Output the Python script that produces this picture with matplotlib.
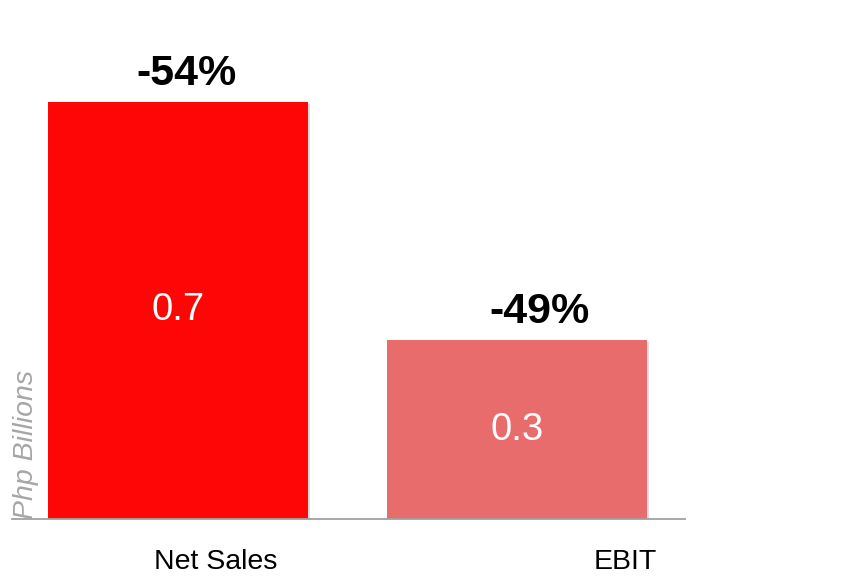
import matplotlib.pyplot as plt
import matplotlib.patheffects as pe

plt.rcParams['font.family'] = ['Liberation Sans', 'DejaVu Sans']

categories = ['Net Sales', 'EBIT']
values = [0.7, 0.3]
changes = ['-54%', '-49%']
bar_colors = ['#fe0606', '#e96c6c']

fig = plt.figure(figsize=(8.47, 5.77), dpi=100)
ax = fig.add_axes([12 / 847, 58 / 577, 673 / 847, 519 / 577])

x = range(len(categories))
bars = ax.bar(x, values, width=0.767, color=bar_colors, zorder=2,
              edgecolor='none')
for b in bars:
    b.set_path_effects([pe.SimplePatchShadow(offset=(1.2, -1.2), alpha=0.15),
                        pe.Normal()])

# value inside each bar, change label above it
for i, (v, c) in enumerate(zip(values, changes)):
    ax.text(i, v / 2, f'{v:.1f}', ha='center', va='center',
            color='white', fontsize=27.5, zorder=3)
    ax.annotate(c, (i, v), xytext=(6 + 10 * i, 6),
                textcoords='offset points', ha='center', va='bottom',
                fontsize=31, fontweight='bold', color='black')

ax.set_xlim(-0.49, 1.496)
ax.set_ylim(0, 0.871)

# category labels sit a bit right of each bar
for i, name in enumerate(categories):
    ax.annotate(name, (i, 0), xytext=(27 + 51 * i, -31),
                textcoords='offset points', ha='center', va='center',
                fontsize=20.5, color='black')

ax.text(0.021, 0.0, 'Php Billions', transform=ax.transAxes, rotation=90,
        ha='center', va='bottom', fontsize=20.5, style='italic',
        color='#a6a6a6', zorder=4)

for s in ['top', 'right', 'left']:
    ax.spines[s].set_visible(False)
ax.spines['bottom'].set_color('#a0a0a0')
ax.spines['bottom'].set_linewidth(1.3)
ax.set_xticks([])
ax.set_yticks([])

fig.savefig('out.png', dpi=100)
